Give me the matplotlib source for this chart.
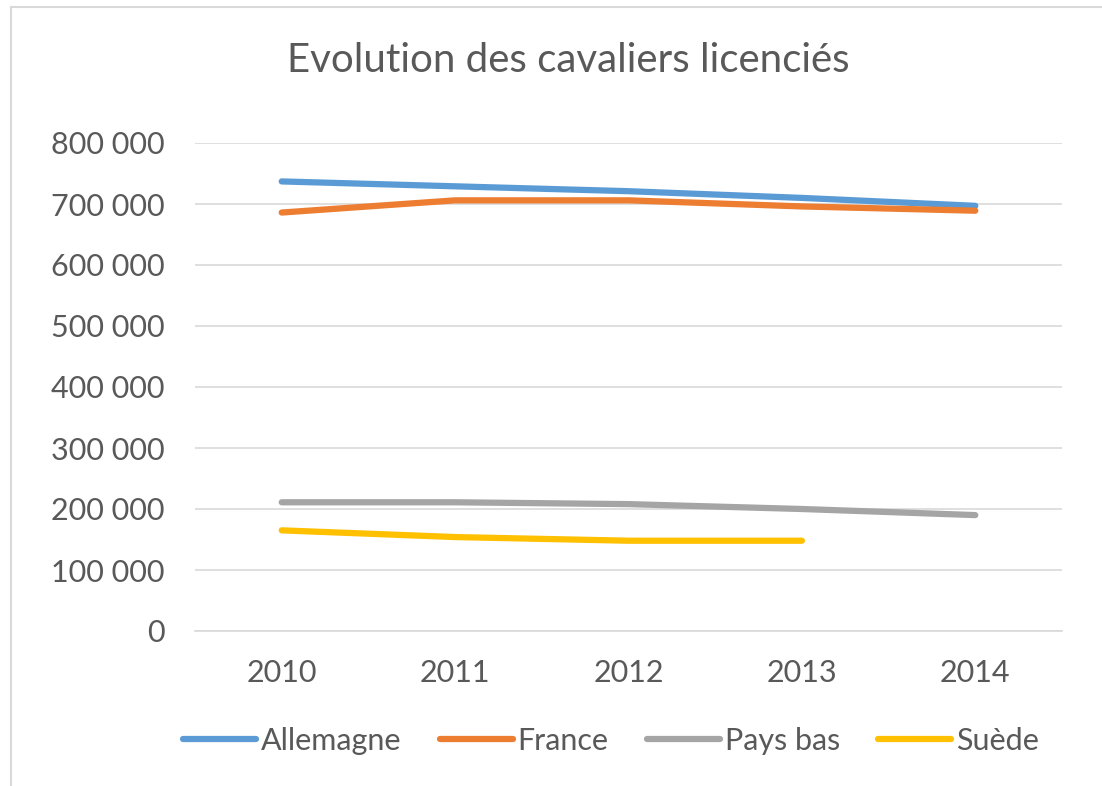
import matplotlib
matplotlib.use("Agg")
import matplotlib.pyplot as plt
from matplotlib.patches import Rectangle
from matplotlib.ticker import FuncFormatter

years = ["2010", "2011", "2012", "2013", "2014"]
allemagne = [737000, 729000, 721000, 710000, 697000]
france = [686000, 706000, 706000, 696000, 689000]
pays_bas = [211000, 211000, 208000, 200000, 190000]
suede = [165000, 154000, 148000, 148000]

series = [
    ("Allemagne", allemagne, "#5B9BD5"),
    ("France", france, "#ED7D31"),
    ("Pays bas", pays_bas, "#A5A5A5"),
    ("Suède", suede, "#FFC000"),
]

plt.rcParams['font.family'] = ['Lato', 'DejaVu Sans']
txt = "#595959"

fig = plt.figure(figsize=(11.02, 7.86), dpi=100)
ax = fig.add_axes([195/1102, 1-631/786, (1062-195)/1102, (631-143)/786])

x = list(range(len(years)))
for name, vals, col in series:
    ax.plot(x[:len(vals)], vals, color=col, lw=4.5, solid_capstyle='round', label=name, zorder=3)

ax.set_xlim(-0.5, len(years)-0.5)
ax.set_ylim(0, 800000)
ax.set_yticks(range(0, 800001, 100000))
ax.yaxis.set_major_formatter(FuncFormatter(lambda v, p: f"{int(v):,}".replace(",", " ")))
ax.set_xticks(x)
ax.set_xticklabels(years)
ax.grid(axis='y', color='#D9D9D9', lw=1.2, zorder=0)
for s in ['top', 'right', 'left']:
    ax.spines[s].set_visible(False)
ax.spines['bottom'].set_color('#D9D9D9')
ax.spines['bottom'].set_linewidth(1.2)
ax.tick_params(axis='both', length=0, labelsize=22, colors=txt)
ax.tick_params(axis='y', pad=22)
ax.tick_params(axis='x', pad=20)

fig.text(568/1102, 1-60/786, "Evolution des cavaliers licenciés", ha='center', va='center',
         fontsize=29, color=txt)

leg = fig.legend(loc='center', bbox_to_anchor=(611/1102, 1-741/786), ncol=4, frameon=False,
                 fontsize=22, handlelength=2.4, columnspacing=1.25, handletextpad=0.15,
                 labelcolor=txt)

fig.patches.append(Rectangle((11/1102, -0.1), 1.2, 1-7/786+0.1, transform=fig.transFigure,
                             fill=False, edgecolor='#D9D9D9', lw=1.5))

fig.savefig("out.png", dpi=100)
